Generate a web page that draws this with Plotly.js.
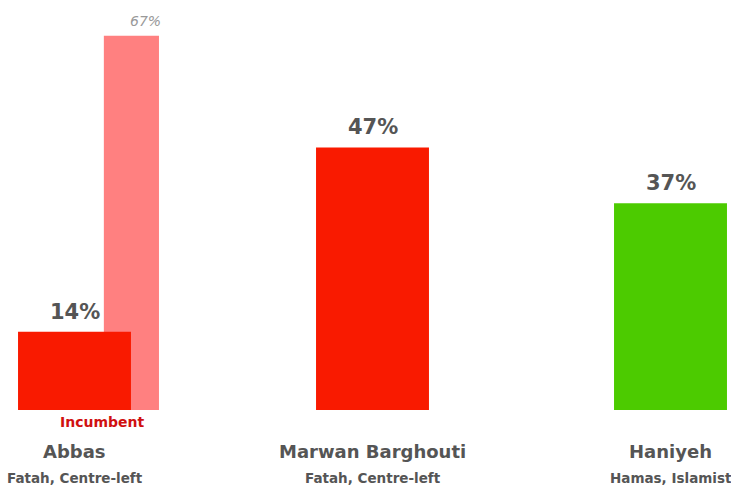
<!DOCTYPE html>
<html><head><meta charset="utf-8">
<script src="https://cdn.plot.ly/plotly-3.0.1.min.js"></script>
<style>html,body{margin:0;padding:0;background:#fff}#c{width:731px;height:488px}</style>
</head><body><div id="c"></div>
<script>
const candidates = ["Abbas", "Marwan Barghouti", "Haniyeh"];
const parties = ["Fatah, Centre-left", "Fatah, Centre-left", "Hamas, Islamist"];
const support = [14, 47, 37];
const barColors = ["#F91A00", "#F91A00", "#4CCB00"];
const incumbentLabel = "Incumbent";
const otherValue = [67];
const otherColor = "#FF8080";

const pos = candidates.map((c, i) => i);
const fontFam = "'DejaVu Sans', sans-serif";

const traces = [
  {type: "bar", x: [0.191], y: otherValue, width: 0.185, marker: {color: otherColor},
   hoverinfo: "none", showlegend: false},
  {type: "bar", x: pos, y: support, width: 0.379, marker: {color: barColors},
   hoverinfo: "none", showlegend: false}
];

const annotations = [];
support.forEach((v, i) => {
  annotations.push({x: pos[i], y: v, xref: "x", yref: "y", text: "<b>" + v + "%</b>",
    showarrow: false, yanchor: "bottom", yshift: 6,
    font: {family: fontFam, size: 21, color: "#555555"}});
  annotations.push({x: pos[i], y: -0.102, xref: "x", yref: "paper", text: "<b>" + candidates[i] + "</b>",
    showarrow: false, yanchor: "middle", font: {family: fontFam, size: 18, color: "#555555"}});
  annotations.push({x: pos[i], y: -0.166, xref: "x", yref: "paper", text: "<b>" + parties[i] + "</b>",
    showarrow: false, yanchor: "middle", font: {family: fontFam, size: 13.5, color: "#555555"}});
});
annotations.push({x: 0.191, y: otherValue[0], xref: "x", yref: "y", text: "<i>" + otherValue[0] + "%</i>",
  showarrow: false, yanchor: "bottom", yshift: 5, xshift: 14,
  font: {family: fontFam, size: 14, color: "#999999"}});
annotations.push({x: 0.095, y: -0.03, xref: "x", yref: "paper", text: "<b>" + incumbentLabel + "</b>",
  showarrow: false, yanchor: "middle", font: {family: fontFam, size: 14, color: "#D01010"}});

const layout = {
  width: 731, height: 488,
  margin: {l: 0, r: 0, t: 0, b: 78},
  paper_bgcolor: "#ffffff", plot_bgcolor: "#ffffff",
  barmode: "overlay",
  xaxis: {range: [-0.25, 2.203], showgrid: false, zeroline: false, showticklabels: false, ticks: "", fixedrange: true},
  yaxis: {range: [0, 73.4], showgrid: false, zeroline: false, showticklabels: false, ticks: "", fixedrange: true},
  annotations: annotations,
  showlegend: false
};
Plotly.newPlot("c", traces, layout, {displayModeBar: false, staticPlot: true});
</script></body></html>
